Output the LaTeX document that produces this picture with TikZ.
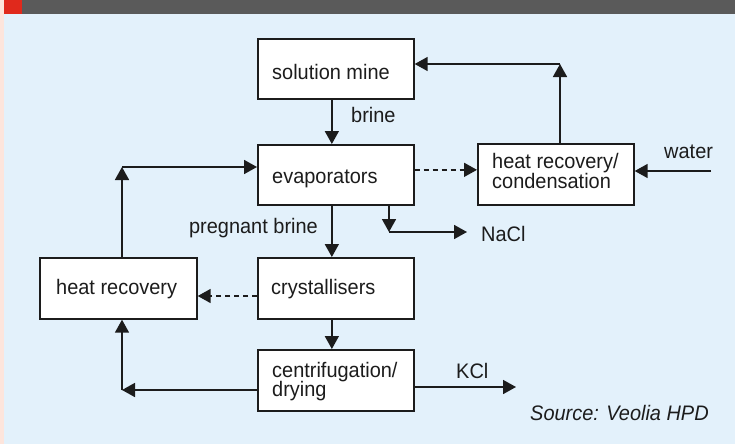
\documentclass[tikz,border=0pt]{standalone}
\usepackage{fontspec}
\setmainfont[FakeStretch=0.95]{Liberation Sans}
\usetikzlibrary{arrows.meta}
\definecolor{bg}{RGB}{227,241,251}
\definecolor{band}{RGB}{90,90,90}
\definecolor{redsq}{RGB}{224,41,28}
\definecolor{pinkstrip}{RGB}{253,229,220}
\definecolor{ink}{RGB}{28,28,28}
\begin{document}
\begin{tikzpicture}[x=1pt,y=-1pt,
 box/.style={draw=ink, line width=1.7pt, fill=white, inner sep=0pt, anchor=north west},
 lbl/.style={font=\fontsize{21}{21}\selectfont, text=ink, inner sep=0pt, anchor=base west},
 arr/.style={draw=ink, line width=1.7pt, -{Triangle[length=13pt,width=14pt]}},
 dsh/.style={arr, dash pattern=on 5pt off 4pt}]
\useasboundingbox (0,0) rectangle (735,444);
\fill[bg] (0,0) rectangle (735,444);
\fill[pinkstrip] (0,0) rectangle (4,444);
\fill[band] (4,0) rectangle (735,14);
\fill[redsq] (4,0) rectangle (22,14);

% boxes
\node[box, minimum width=156pt, minimum height=60pt] (mine) at (257,38) {};
\node[box, minimum width=156pt, minimum height=60pt] (evap) at (257,144) {};
\node[box, minimum width=156pt, minimum height=61pt] (hrc) at (477,143) {};
\node[box, minimum width=157pt, minimum height=61pt] (hr) at (39,257) {};
\node[box, minimum width=156pt, minimum height=61pt] (cry) at (257,257) {};
\node[box, minimum width=156pt, minimum height=61pt] (cen) at (257,349) {};

% box texts
\node[lbl] (tmine) at (272,79) {solution mine};
\node[lbl] (tevap) at (272,183) {evaporators};
\node[lbl] (thrc1) at (492,168) {heat recovery/};
\node[lbl] (thrc2) at (492,188) {condensation};
\node[lbl] (thr) at (56,294) {heat recovery};
\node[lbl] (tcry) at (271,294) {crystallisers};
\node[lbl] (tcen1) at (272,377) {centrifugation/};
\node[lbl] (tcen2) at (272,396) {drying};

% free labels
\node[lbl] (lbrine) at (351,122) {brine};
\node[lbl, anchor=base east] (lpreg) at (318,233) {pregnant brine};
\node[lbl] (lnacl) at (481,241) {NaCl};
\node[lbl] (lwater) at (664,158) {water};
\node[lbl] (lkcl) at (456,378) {KCl};
\node[lbl, font=\fontsize{21}{21}\selectfont\itshape] (lsrc) at (530,420) {Source: Veolia HPD};

% corner coordinates
\coordinate (c1) at (560,64);
\coordinate (w) at (711,171);
\coordinate (n1) at (389,232);
\coordinate (n2) at (467,232);
\coordinate (d2) at (200,296);
\coordinate (k) at (516,387);
\coordinate (l1) at (122,390);
\coordinate (l2) at (122,167);

% connectors
\draw[arr] ([xshift=-4pt]mine.south) -- ([xshift=-4pt]evap.north);
\draw[dsh] ([yshift=5pt]evap.east) -- ([yshift=5pt]evap.east -| hrc.west);
\draw[arr] (hrc.north -| c1) -- (c1);
\draw[arr] (c1) -- (mine.east |- c1);
\draw[arr] (w) -- (w -| hrc.east);
\draw[arr] (evap.south -| n1) -- (n1);
\draw[arr] (n1) -- (n2);
\draw[arr] ([xshift=-4pt]evap.south) -- ([xshift=-4pt]cry.north);
\draw[dsh] (cry.west |- d2) -- (hr.east |- d2);
\draw[arr] ([xshift=-4pt]cry.south) -- ([xshift=-4pt]cen.north);
\draw[arr] (cen.east |- k) -- (k);
\draw[arr] (cen.west |- l1) -- (l1);
\draw[arr] (l1) -- (l1 |- hr.south);
\draw[arr] (hr.north -| l2) -- (l2);
\draw[arr] (l2) -- (l2 -| evap.west);
\end{tikzpicture}
\end{document}
